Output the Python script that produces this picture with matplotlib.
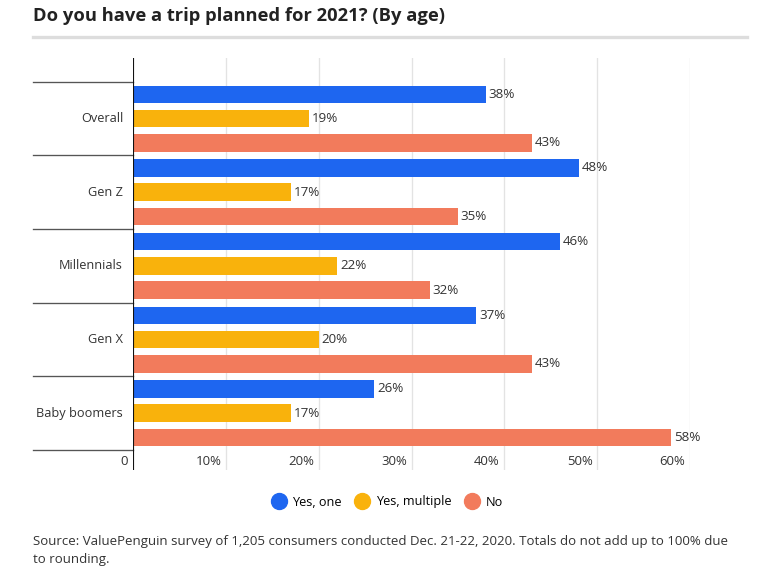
import numpy as np
import matplotlib
matplotlib.use("Agg")
import matplotlib.pyplot as plt
from matplotlib.lines import Line2D

plt.rcParams['font.family'] = ['Open Sans', 'DejaVu Sans']

# Datos
grupos = ["Overall", "Gen Z", "Millennials", "Gen X", "Baby boomers"]
series = ["Yes, one", "Yes, multiple", "No"]
si_uno = [38, 48, 46, 37, 26]
si_varios = [19, 17, 22, 20, 17]
no = [43, 35, 32, 43, 58]
ticks_x = [0, 10, 20, 30, 40, 50, 60]
colores = ["#1e66f0", "#f9b20c", "#f27b5c"]

W, H = 768, 576
fig = plt.figure(figsize=(W / 96, H / 96), dpi=96)

# Ejes en píxeles: cero en x=133, 60% en x=690, y de 58 a 470
x0, x1 = 133, 690
y_top, y_bot = 58, 470
ax = fig.add_axes([x0 / W, 1 - y_bot / H, (x1 - x0) / W, (y_bot - y_top) / H])

paso = 73.6  # alto de cada grupo en píxeles
ax.set_xlim(0, 60)
ax.set_ylim(5 + (y_bot - 450) / paso, -(81.7 - y_top) / paso)
ax.axis("off")

# Cuadrícula vertical
for t in ticks_x[1:]:
    ax.axvline(t, color="#e3e3e3", lw=1, zorder=0)
ax.axvline(0, color="#111111", lw=1.6, zorder=3)

alto = 0.238
sep = 0.329
for i, valores in enumerate([si_uno, si_varios, no]):
    ys = np.arange(len(grupos)) + 0.5 + (i - 1) * sep
    ax.barh(ys, valores, height=alto, color=colores[i], zorder=2)
    for y, v in zip(ys, valores):
        ax.annotate(f"{v}%", (v, y), xytext=(2, 0), textcoords="offset points",
                    va="center", ha="left", fontsize=10, color="#333333")

# Separadores de grupos a la izquierda del eje
for k in range(len(grupos) + 1):
    ax.plot([-100 / 92.9 * 10, 0], [k, k], color="#555555", lw=1, clip_on=False)

for k, g in enumerate(grupos):
    ax.text(-10 / 92.9 * 10, k + 0.5, g, ha="right", va="center",
            fontsize=9.6, color="#333333")

# Etiquetas del eje x
for t in ticks_x:
    etiqueta = "0" if t == 0 else f"{t}%"
    ax.text(t - 0.5, 5 + 12 / paso, etiqueta, ha="right", va="center",
            fontsize=9.8, color="#333333")

# Título y línea
fig.text(33 / W, 1 - 16 / H, "Do you have a trip planned for 2021? (By age)",
         ha="left", va="center", fontsize=13.8, fontweight="bold", color="#222222")
fig.add_artist(Line2D([33 / W, 747 / W], [1 - 37 / H, 1 - 37 / H],
                      color="#dddddd", lw=2.5))

# Leyenda
handles = [Line2D([], [], marker="o", ls="", markersize=12, color=c) for c in colores]
fig.legend(handles, series, loc="center", bbox_to_anchor=(387 / W, 1 - 502 / H),
           ncol=3, frameon=False, fontsize=9.5, handletextpad=0.5, columnspacing=1.0,
           handlelength=1.2)

# Fuente
fig.text(33 / W, 1 - 550 / H,
         "Source: ValuePenguin survey of 1,205 consumers conducted Dec. 21-22, 2020. Totals do not add up to 100% due\nto rounding.",
         ha="left", va="center", fontsize=9.93, color="#333333", linespacing=1.5)

fig.savefig("out.png", dpi=96, facecolor="white")
